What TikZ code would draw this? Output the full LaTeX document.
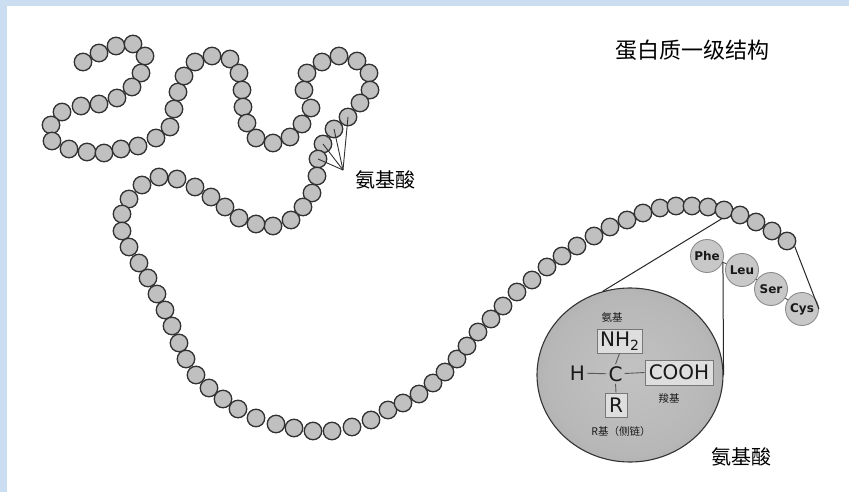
\documentclass[tikz,border=0pt]{standalone}
\usepackage{fontspec}
\setmainfont{DejaVu Sans}
\newfontfamily\cjk{Noto Sans CJK SC}
\usetikzlibrary{shapes.geometric,calc}
\definecolor{pagebg}{RGB}{203,222,241}
\definecolor{beadfill}{RGB}{192,192,192}
\definecolor{beadline}{RGB}{50,50,50}
\definecolor{resfill}{RGB}{200,200,200}
\definecolor{resline}{RGB}{140,140,140}
\definecolor{boxfill}{RGB}{222,222,222}
\definecolor{boxline}{RGB}{120,120,120}
\definecolor{inktext}{RGB}{25,25,25}
% soft grey lens: light centre, darker rim
\pgfdeclareradialshading{lens}{\pgfpoint{0bp}{0bp}}{%
  color(0bp)=(black!24); color(22bp)=(black!28); color(50bp)=(black!42); color(72bp)=(black!42)}
\begin{document}
\begin{tikzpicture}[x=1pt,y=-1pt,
  bead/.style={circle,draw=beadline,fill=beadfill,line width=1.3pt,minimum size=17.5pt,inner sep=0pt},
  residue/.style={circle,draw=resline,fill=resfill,line width=0.9pt,minimum size=33pt,inner sep=0pt,
    font=\fontsize{12}{14}\selectfont\bfseries,text=inktext},
  pointer/.style={draw=beadline,line width=0.9pt},
  zoomline/.style={draw=black!85,line width=1pt},
  bond/.style={draw=black!65,line width=0.9pt},
  grpbox/.style={draw=boxline,fill=boxfill,line width=0.9pt,inner sep=0pt,
    font=\fontsize{20}{22}\selectfont,text=inktext},
  atom/.style={inner sep=2pt,font=\fontsize{20}{22}\selectfont,text=inktext},
  cjklabel/.style={font=\cjk\fontsize{20}{22}\selectfont,text=black,inner sep=0pt},
  cjksmall/.style={font=\cjk\fontsize{10.5}{12}\selectfont,text=black!90,inner sep=0pt}]

% page with blue frame
\fill[pagebg] (0,0) rectangle (849,492);
\fill[white] (7,6) rectangle (849,492);
\useasboundingbox (0,0) rectangle (849,492);

% residue chain positions
\foreach \x/\y [count=\i] in {
  83/62, 99/53, 116/46, 133/44, 145/56, 141/73, 132/87, 117/98, 99/104, 81/106,
  62/112, 51/125, 52/141, 69/149, 87/152, 104/153, 121/149, 138/146, 156/138, 170/127,
  174/109, 178/92, 184/76, 195/62, 212/56, 230/59, 239/73, 242/90, 243/107, 247/123,
  256/138, 273/143, 290/137, 302/124, 311/108, 304/90, 307/73, 322/62, 339/56, 357/61,
  369/73, 370/90, 360/103, 348/117, 334/129, 323/144, 318/159, 317/176, 312/193, 303/207,
  291/220, 273/226, 256/224, 239/218, 225/207, 211/197, 195/187, 177/179, 159/177, 142/185,
  129/199, 122/214, 122/231, 129/247, 139/263, 148/278, 157/294, 165/310, 172/326, 179/343,
  186/359, 196/375, 209/388, 223/399, 238/409, 256/418, 276/424, 294/428, 313/431, 332/431,
  352/427, 371/420, 388/410, 403/403, 419/394, 433/383, 445/372, 457/359, 467/346, 478/332,
  491/319, 503/306, 517/292, 532/280, 547/267, 562/256, 577/246, 594/236, 610/227, 627/220,
  643/213, 660/208, 676/206, 692/206, 708/207, 724/210, 740/215, 756/222, 772/231, 787/241}
  \coordinate (p\i) at (\x,\y);

% amino acid close-up
\node[ellipse,draw=black!80,line width=1.1pt,minimum width=186pt,minimum height=174pt,inner sep=0pt,
  shading=lens] (amino) at (630,375) {};

% enlarged residues
\node[residue] (phe) at (707,256) {Phe};
\node[residue] (leu) at (742,270) {Leu};
\node[residue] (ser) at (771,289) {Ser};
\node[residue] (cys) at (802,309) {Cys};
\draw[pointer,draw=black!70] (phe) -- (leu) -- (ser) -- (cys);

% lines opening the close-up
\coordinate (split) at ($(p106)!0.5!(p107)$);
\draw[zoomline] (split) -- (amino.108);
\draw[zoomline] (phe.-20) -- (amino.east);

% chain beads
\foreach \i in {1,...,110} \node[bead] (b\i) at (p\i) {};
\draw[zoomline] (b110.-35) -- (cys.east);

% pointer fan to single residues
\coordinate (apex) at (343,170);
\foreach \k in {44,45,46,47} \draw[pointer] (b\k.center) -- (apex);
\node[cjklabel] (lab1) at (385,180) {氨基酸};

% structural formula
\node[cjksmall] (aminolab) at (612,318) {氨基};
\node[grpbox,minimum width=45pt,minimum height=24pt] (nh2) at (619.5,341)
  {NH\raisebox{-0.4ex}{\fontsize{14}{14}\selectfont 2}};
\node[atom] (c) at (615.5,374) {C};
\node[atom] (h) at (577.5,373) {H};
\node[grpbox,minimum width=68pt,minimum height=25pt] (cooh) at (679,372.5) {COOH};
\node[grpbox,minimum width=22pt,minimum height=24pt] (r) at (616,405) {R};
\draw[bond] (h) -- (c);
\draw[bond] (c) -- (cooh.west);
\draw[bond] (nh2.south) -- (c.north);
\draw[bond] (c.south) -- (r.north);
\node[cjksmall] (carbox) at (669,398) {羧基};
\node[cjksmall] (rlab) at (621,432) {R基（侧链）};

% titles
\node[cjklabel,font=\cjk\fontsize{22}{24}\selectfont] (title) at (692,50) {蛋白质一级结构};
\node[cjklabel] (lab2) at (741,457) {氨基酸};
\end{tikzpicture}
\end{document}
